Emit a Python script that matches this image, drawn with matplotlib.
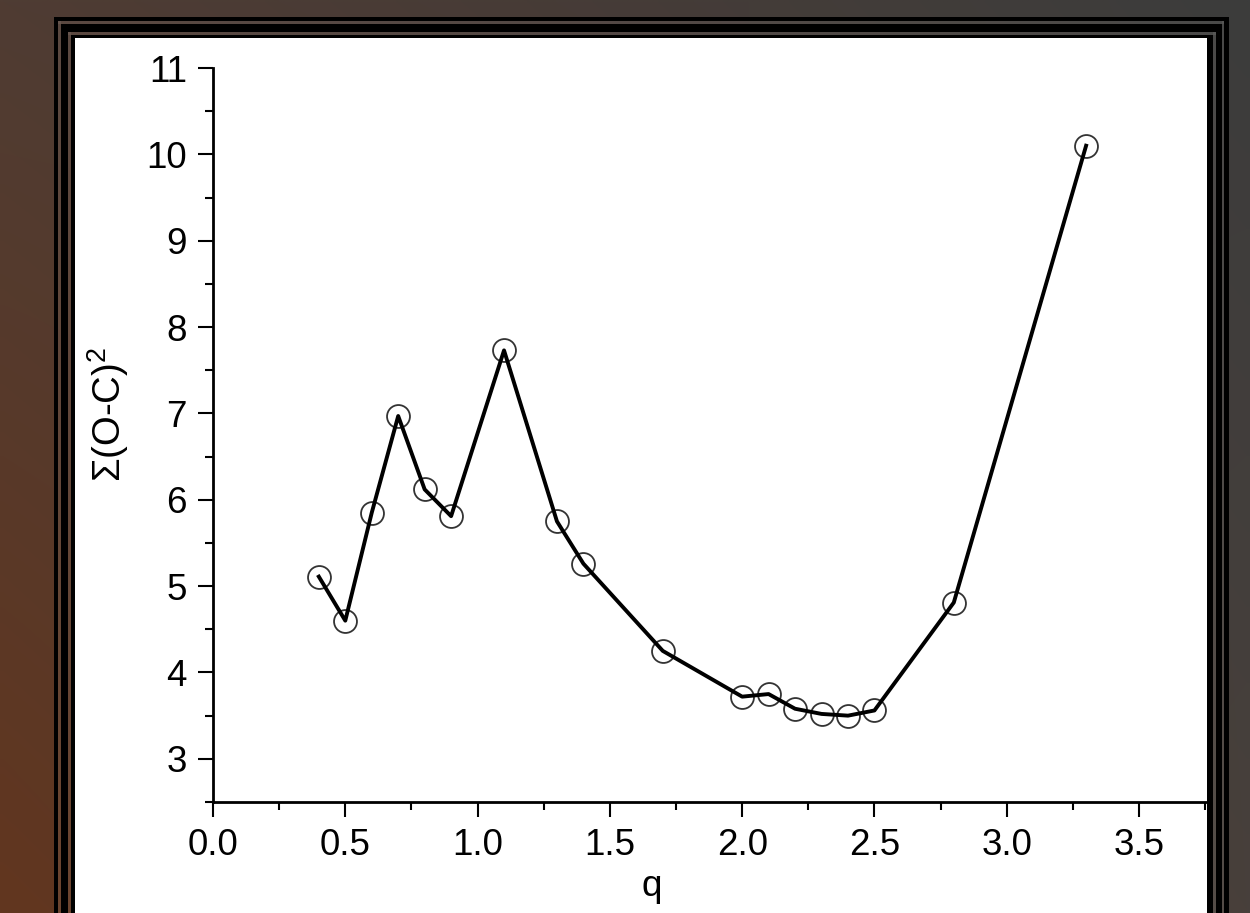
import numpy as np
import matplotlib
matplotlib.use("Agg")
import matplotlib.pyplot as plt
from matplotlib.patches import Rectangle
from matplotlib.ticker import MultipleLocator, FormatStrFormatter

# ---- data ----
q_values = [0.4, 0.5, 0.6, 0.7, 0.8, 0.9, 1.1, 1.3, 1.4, 1.7,
            2.0, 2.1, 2.2, 2.3, 2.4, 2.5, 2.8, 3.3]
sum_oc2 = [5.11, 4.60, 5.85, 6.97, 6.12, 5.81, 7.73, 5.75, 5.26, 4.25,
           3.72, 3.75, 3.58, 3.52, 3.50, 3.56, 4.81, 10.10]
x_ticks = [0.0, 0.5, 1.0, 1.5, 2.0, 2.5, 3.0, 3.5]
y_ticks = [3, 4, 5, 6, 7, 8, 9, 10, 11]

plt.rcParams['font.family'] = ['Liberation Sans', 'DejaVu Sans']
plt.rcParams['mathtext.fontset'] = 'custom'
plt.rcParams['mathtext.rm'] = 'Liberation Sans'

W, H = 1250, 913
fig = plt.figure(figsize=(W / 100, H / 100), dpi=100)

# ---- gradient background ----
bg = fig.add_axes([0, 0, 1, 1], zorder=-10)
bg.axis('off')
tl = np.array([0x4f, 0x3c, 0x33]) / 255
bl = np.array([0x62, 0x36, 0x1f]) / 255
tr = np.array([0x3c, 0x3c, 0x3c]) / 255
br = np.array([0x48, 0x40, 0x3b]) / 255
u = np.linspace(0, 1, 200)[None, :, None]
v = np.linspace(0, 1, 150)[:, None, None]
img = (1 - v) * ((1 - u) * tl + u * tr) + v * ((1 - u) * bl + u * br)
bg.imshow(img, extent=[0, 1, 0, 1], aspect='auto', interpolation='bilinear')
bg.set_xlim(0, 1)
bg.set_ylim(0, 1)


def prect(x0, x1, y0, y1, color, z):
    # pixel coords, y measured from top
    r = Rectangle((x0 / W, 1 - y1 / H), (x1 - x0) / W, (y1 - y0) / H,
                  transform=fig.transFigure, facecolor=color,
                  edgecolor='none', zorder=z)
    fig.add_artist(r)


def frame(l0, l1, t0, t1, r0, r1, color, z):
    prect(l0, l1, t0, H + 5, color, z)      # left strip
    prect(l0, r1, t0, t1, color, z)         # top strip
    prect(r0, r1, t0, H + 5, color, z)      # right strip


band = (1, 1, 1, 0.07)
frame(54, 58, 17, 21, 1224, 1229, 'black', 1)
frame(58, 61, 21, 24, 1222, 1224, band, 1)
frame(61, 68, 24, 32, 1216, 1222, 'black', 1)
frame(68, 71, 32, 35, 1213, 1216, band, 1)
frame(71, 75, 35, 38, 1207, 1213, 'black', 1)
prect(75, 1207, 38, H + 5, 'white', 1)

# ---- main axes ----
ax_l, ax_r, ax_t, ax_b = 213, 1207, 68, 802
ax = fig.add_axes([ax_l / W, 1 - ax_b / H, (ax_r - ax_l) / W, (ax_b - ax_t) / H],
                  zorder=5)
ax.set_facecolor('none')

ax.plot(q_values, sum_oc2, 'o', mfc='none', mec='#333333', ms=16.5,
        mew=1.3, zorder=3)
ax.plot(q_values, sum_oc2, '-', color='black', lw=2.8, zorder=4)

ax.set_xlim(0, 3.757)
ax.set_ylim(2.5, 11)
ax.set_xticks(x_ticks)
ax.set_yticks(y_ticks)
ax.xaxis.set_minor_locator(MultipleLocator(0.25))
ax.yaxis.set_minor_locator(MultipleLocator(0.5))
ax.xaxis.set_major_formatter(FormatStrFormatter('%.1f'))

for s in ['top', 'right']:
    ax.spines[s].set_visible(False)
for s in ['left', 'bottom']:
    ax.spines[s].set_linewidth(2.0)

ax.tick_params(which='major', direction='out', length=10.8, width=1.5,
               labelsize=26.5, pad=8)
ax.tick_params(which='minor', direction='out', length=5.5, width=1.5)

fig.text(121 / W, 1 - 414 / H, 'Σ(O-C)$^{\\mathregular{2}}$', rotation=90,
         rotation_mode='anchor', ha='center', va='baseline', fontsize=27.5)
fig.text(652 / W, 1 - 896 / H, 'q', ha='center', va='baseline', fontsize=26.5)

fig.savefig('out.png', dpi=100)
